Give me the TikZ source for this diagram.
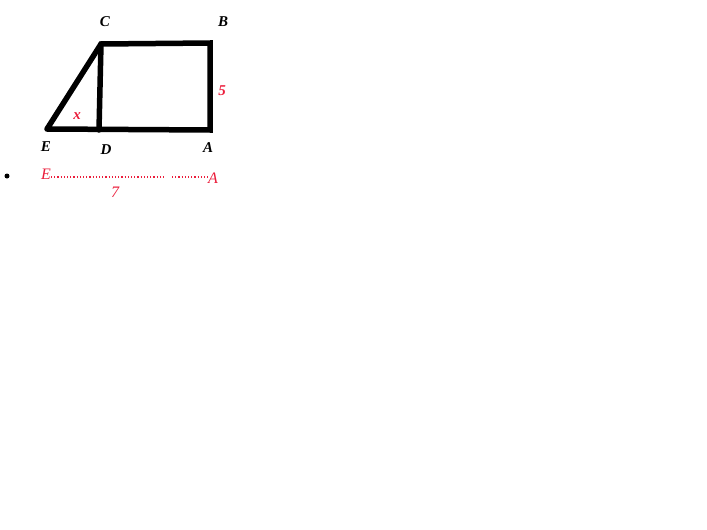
\documentclass[tikz,border=0pt]{standalone}
\usepackage{fontspec}
\setmainfont{Liberation Serif}
\definecolor{lred}{RGB}{235,30,60}
\begin{document}
\begin{tikzpicture}[x=1pt,y=-1pt,
  thick line/.style={line width=5.5pt,line cap=round},
  blab/.style={font=\bfseries\itshape\fontsize{15}{15}\selectfont,inner sep=0pt},
  rlab/.style={font=\bfseries\itshape\fontsize{15}{15}\selectfont,text=lred,inner sep=0pt},
  rthin/.style={font=\itshape\fontsize{16}{16}\selectfont,text=lred,inner sep=0pt}]
\useasboundingbox (0,0) rectangle (707,530);
\coordinate (E) at (47,129);
\coordinate (D) at (99,130);
\coordinate (A) at (210,130);
\coordinate (B) at (210,43);
\coordinate (C) at (101,44);
\draw[thick line] (E) -- (C) -- (B) -- (A) -- (E);
\draw[thick line] (C) -- (D);
\node[blab] (lC) at (105,22) {C};
\node[blab] (lB) at (223,22) {B};
\node[blab] (lE) at (46,147) {E};
\node[blab] (lD) at (106,150) {D};
\node[blab] (lA) at (208,148) {A};
\node[rlab] (l5) at (222,91) {5};
\node[rlab] (lx) at (77,116) {x};
\fill (7,176) circle (2.5);
\node[rthin] (rE) at (46,174) {E};
\node[rthin] (rA) at (213,178) {A};
\node[rthin] (r7) at (115,192) {7};
\coordinate (g1) at (165,177);
\coordinate (g2) at (172,177);
\draw[lred,line width=1.2pt,dotted] (rE.east |- g1) -- (g1);
\draw[lred,line width=1.2pt,dotted] (g2) -- (rA.west |- g2);
\end{tikzpicture}
\end{document}
